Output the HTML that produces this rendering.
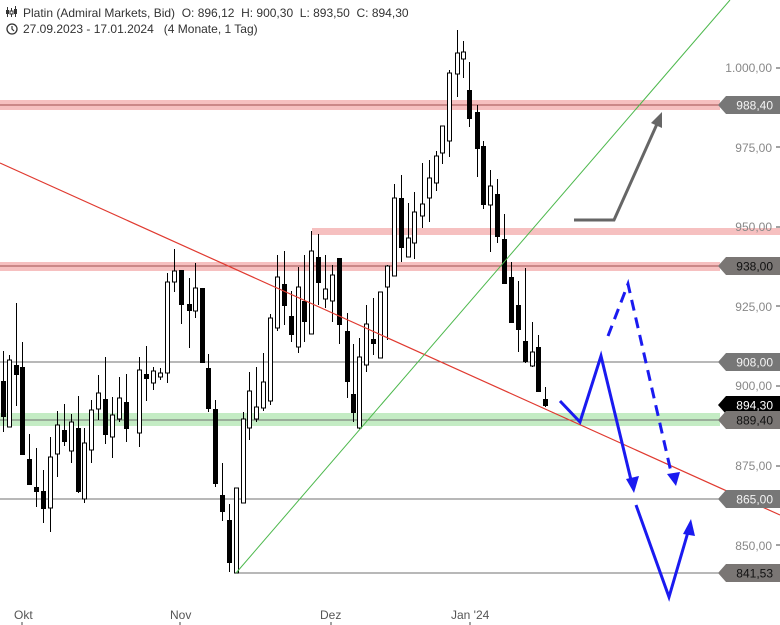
<!DOCTYPE html>
<html><head><meta charset="utf-8"><style>
html,body{margin:0;padding:0;background:#fff;}
svg{display:block;font-family:"Liberation Sans",sans-serif;}
text{white-space:pre;}
</style></head><body>
<svg id="s" width="780" height="625" xmlns="http://www.w3.org/2000/svg">
<rect width="780" height="625" fill="#fff"/>
<rect x="0" y="100" width="720" height="10" fill="#f6c0c0"/>
<line x1="0" y1="105" x2="720" y2="105" stroke="#a05050" stroke-width="1"/>
<rect x="312" y="228" width="468" height="7" fill="#f6c0c0"/>
<rect x="0" y="262" width="720" height="9" fill="#f6c0c0"/>
<line x1="0" y1="266" x2="720" y2="266" stroke="#a05050" stroke-width="1"/>
<rect x="0" y="413" width="720" height="13" fill="#c4ecc4"/>
<line x1="0" y1="420" x2="720" y2="420" stroke="#707070" stroke-width="1"/>
<line x1="0" y1="362" x2="720" y2="362" stroke="#707070" stroke-width="1"/>
<line x1="0" y1="499" x2="720" y2="499" stroke="#707070" stroke-width="1"/>
<line x1="236" y1="573" x2="720" y2="573" stroke="#707070" stroke-width="1"/>
<g id="c"></g>
<line x1="0" y1="163" x2="780" y2="515" stroke="#e03a30" stroke-width="1.2"/>
<line x1="236" y1="573" x2="730" y2="0" stroke="#4cb84c" stroke-width="1"/>
<polyline points="574,220 614,220 657,124" fill="none" stroke="#666" stroke-width="3"/>
<polygon points="662,112 651,123 662,128" fill="#666"/>
<polyline points="560,401 580,422 601,356 631,480" fill="none" stroke="#1a1af0" stroke-width="3"/>
<polygon points="634,493 626,479 639,476" fill="#1a1af0"/>
<polyline points="608,336 628,284 671,472" fill="none" stroke="#1a1af0" stroke-width="3" stroke-dasharray="11,7"/>
<polygon points="676,486 667,474 680,472" fill="#1a1af0"/>
<polyline points="636,505 669,597 688,532" fill="none" stroke="#1a1af0" stroke-width="3"/>
<polygon points="691,519 683,534 695,536" fill="#1a1af0"/>
<g font-size="12" fill="#888" text-anchor="end">
<text x="772" y="72">1.000,00</text>
<text x="772" y="152">975,00</text>
<text x="772" y="231">950,00</text>
<text x="772" y="311">925,00</text>
<text x="772" y="390">900,00</text>
<text x="772" y="470">875,00</text>
<text x="772" y="550">850,00</text>
</g>
<g stroke="#444"><line x1="776" y1="68" x2="780" y2="68"/><line x1="776" y1="147" x2="780" y2="147"/><line x1="776" y1="227" x2="780" y2="227"/><line x1="776" y1="306" x2="780" y2="306"/><line x1="776" y1="386" x2="780" y2="386"/><line x1="776" y1="466" x2="780" y2="466"/><line x1="776" y1="545" x2="780" y2="545"/></g>
<g id="tags" font-size="12" text-anchor="end"></g>
<g font-size="12" fill="#555">
<text x="14" y="619">Okt</text><text x="170" y="619">Nov</text><text x="320" y="619">Dez</text><text x="451" y="619">Jan '24</text>
</g>
<g stroke="#444"><line x1="22" y1="622" x2="22" y2="625"/><line x1="180" y1="622" x2="180" y2="625"/><line x1="331" y1="622" x2="331" y2="625"/><line x1="470" y1="622" x2="470" y2="625"/></g>
<g font-size="12" fill="#333">
<g stroke="#333" stroke-width="1"><line x1="7.5" y1="7" x2="7.5" y2="17"/><line x1="11.5" y1="8" x2="11.5" y2="17"/><line x1="15.5" y1="6" x2="15.5" y2="17"/></g>
<rect x="6" y="10" width="3" height="4" fill="#333"/><rect x="10" y="11" width="3" height="3" fill="#fff" stroke="#333"/><rect x="14" y="9" width="3" height="5" fill="#333"/>
<text x="23" y="17">Platin (Admiral Markets, Bid)  O: 896,12  H: 900,30  L: 893,50  C: 894,30</text>
<circle cx="12" cy="29" r="5" fill="none" stroke="#333" stroke-width="1.3"/><polyline points="12,26 12,29 14,31" fill="none" stroke="#333" stroke-width="1.2"/>
<text x="23" y="33">27.09.2023 - 17.01.2024   (4 Monate, 1 Tag)</text>
</g>
</svg>
<script>
var d=[
[2.5,351,432,381,417,1],[9,355,427,360,427,0],[16,303,406,365,375,1],[22,342,455,367,455,1],[29,434,485,459,485,1],[36,448,507,487,492,1],[43,470,523,491,509,1],[50,437,532,457,508,0],[57,411,477,425,454,0],[64,404,446,430,442,1],[71,414,463,422,451,0],[78,396,493,428,492,1],[84,428,503,443,499,0],[91,400,463,410,450,0],[98,375,420,393,409,0],[105,357,444,399,435,1],[112,397,458,415,437,0],[119,377,422,398,419,0],[126,374,442,402,429,1],[139,357,447,370,433,0],[146,346,401,374,379,1],[153,367,390,371,383,0],[160,368,380,373,377,0],[167,273,383,282,373,0],[174,249,292,271,282,0],[181,270,324,270,305,1],[189,278,348,304,311,1],[195,263,318,288,311,0],[202,288,363,288,363,1],[208,354,412,368,409,1],[215,400,487,409,484,1],[222,463,521,495,512,1],[229,504,572,520,563,1],[236,488,573,488,573,0],[243,412,503,419,503,0],[249,372,440,391,428,0],[256,367,422,407,419,0],[263,353,411,382,408,0],[270,314,405,318,401,0],[277,255,331,277,328,0],[284,251,325,284,306,1],[291,291,342,316,335,1],[298,267,353,287,347,0],[304,255,342,301,322,1],[311,231,334,251,334,0],[318,234,305,257,283,1],[325,255,308,289,299,0],[332,265,322,275,301,0],[339,258,344,258,325,1],[347,313,398,331,382,1],[353,344,422,394,413,1],[359,338,429,357,428,0],[366,305,372,324,365,0],[373,298,355,339,344,1],[380,292,358,292,358,0],[387,265,340,266,287,0],[394,184,276,198,276,0],[401,175,262,198,248,1],[408,203,257,238,257,0],[414,192,259,212,243,0],[422,163,228,204,216,0],[429,160,222,178,198,0],[436,151,191,156,183,0],[442,126,164,126,153,0],[449,70,157,73,141,0],[457,30,97,53,74,0],[463,41,78,52,59,0],[469,62,127,90,119,1],[477,105,177,112,149,1],[483,141,209,146,205,1],[490,170,252,186,205,0],[497,179,243,194,237,1],[504,214,284,239,284,1],[511,262,323,277,323,1],[518,281,352,305,330,1],[525,268,363,341,362,1],[532,322,367,352,366,0],[538,335,392,347,392,1],[545,387,407,399,406,1]];
var g=document.getElementById('c'),h='';
d.forEach(function(c){var x=Math.round(c[0])+0.5;h+='<line x1="'+x+'" y1="'+c[1]+'" x2="'+x+'" y2="'+c[2]+'" stroke="#000" stroke-width="1"/>';
var hh=Math.max(2,c[4]-c[3]);
if(c[5])h+='<rect x="'+(x-2.5)+'" y="'+c[3]+'" width="5" height="'+hh+'" fill="#000"/>';
else h+='<rect x="'+(x-2)+'" y="'+c[3]+'" width="4" height="'+hh+'" fill="#fff" stroke="#000" stroke-width="1"/>';});
g.innerHTML=h;
var t=[[105,'988,40','#777','#f4f4f4'],[266,'938,00','#7a7674','#111'],[362,'908,00','#777','#f4f4f4'],[405,'894,30','#000','#fff'],[420,'889,40','#7a7674','#111'],[499,'865,00','#777','#f4f4f4'],[573,'841,53','#7a7674','#111']];
var s='';t.forEach(function(a){var y=a[0];s+='<polygon points="718,'+y+' 726,'+(y-9)+' 780,'+(y-9)+' 780,'+(y+9)+' 726,'+(y+9)+'" fill="'+a[2]+'"/><text x="773" y="'+(y+4.5)+'" fill="'+a[3]+'">'+a[1]+'</text>';});
document.getElementById('tags').innerHTML=s;
</script>
</body></html>
